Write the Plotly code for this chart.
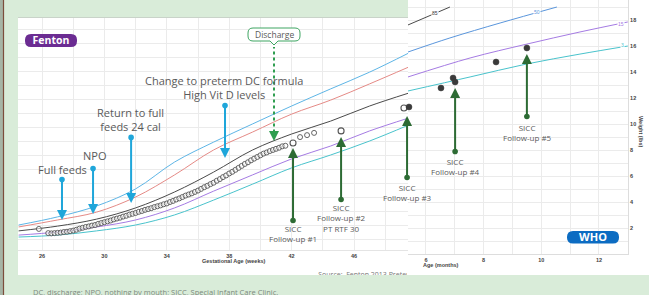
import plotly.graph_objects as go

W, H = 649, 295

# ---------------- data ----------------
# Fenton preterm percentile curves (gestational age in weeks, weight in kg)
fenton_weeks = [24.5, 27.0, 29.5, 32.0, 34.5, 37.0, 39.5, 42.0, 44.5, 47.0, 49.5]
fenton_p97 = [1.00, 1.29, 1.68, 2.29, 3.25, 3.96, 4.61, 5.25, 5.86, 6.46, 7.14]
fenton_p90 = [0.93, 1.18, 1.46, 2.00, 2.79, 3.68, 4.32, 4.96, 5.46, 6.04, 6.64]
fenton_p50 = [0.79, 0.96, 1.21, 1.61, 2.18, 2.89, 3.68, 4.25, 4.71, 5.25, 5.71]
fenton_p10 = [0.64, 0.75, 0.93, 1.18, 1.61, 2.21, 2.79, 3.36, 3.82, 4.36, 4.82]
fenton_p3 = [0.57, 0.64, 0.79, 1.00, 1.36, 1.89, 2.46, 3.04, 3.50, 4.00, 4.57]

# infant's in-hospital weights
inpatient_weeks = [25.8, 26.4, 26.6, 26.8, 27.0, 27.2, 27.4, 27.6, 27.8, 28.0,
                   28.2, 28.4, 28.6, 28.8, 29.0, 29.2, 29.4, 29.6, 29.8, 30.0,
                   30.2, 30.4, 30.6, 30.8, 31.0, 31.2, 31.4, 31.6, 31.8, 32.0,
                   32.2, 32.4, 32.6, 32.8, 33.0, 33.2, 33.4, 33.6, 33.8, 34.0,
                   34.2, 34.4, 34.6, 34.8, 35.0, 35.2, 35.4, 35.6, 35.8, 36.0,
                   36.2, 36.4, 36.6, 36.8, 37.0, 37.2, 37.4, 37.6, 37.8, 38.0,
                   38.2, 38.4, 38.6, 38.8, 39.0, 39.2, 39.4, 39.6, 39.8, 40.0,
                   40.2, 40.4, 40.6, 40.8, 41.0, 41.2, 41.4, 41.6]
inpatient_kg = [0.86, 0.71, 0.70, 0.71, 0.72, 0.73, 0.75, 0.76, 0.78, 0.80,
                0.83, 0.87, 0.90, 0.93, 0.95, 0.98, 1.00, 1.04, 1.07, 1.10,
                1.13, 1.16, 1.20, 1.23, 1.26, 1.30, 1.33, 1.37, 1.40, 1.43,
                1.47, 1.50, 1.54, 1.57, 1.60, 1.64, 1.67, 1.70, 1.74, 1.77,
                1.82, 1.86, 1.91, 1.95, 2.00, 2.05, 2.09, 2.13, 2.18, 2.23,
                2.29, 2.35, 2.40, 2.46, 2.51, 2.58, 2.64, 2.71, 2.77, 2.84,
                2.90, 2.97, 3.04, 3.11, 3.18, 3.24, 3.31, 3.37, 3.43, 3.49,
                3.55, 3.59, 3.64, 3.68, 3.72, 3.76, 3.81, 3.83]
postdc_weeks = [42.54, 42.99, 43.44]
postdc_kg = [4.14, 4.21, 4.29]
followup_weeks = [42.09, 45.17, 49.2]
followup_kg = [3.93, 4.36, 5.18]

# WHO chart (age in months, weight)
who_months = [5.41, 6.52, 6.94, 7.01, 8.43, 9.50]
who_weight = [11.31, 12.77, 13.54, 13.23, 14.77, 15.85]
who_pc_months = [5.376, 7.53, 9.50, 11.34, 13.0]
who_p3 = [12.54, 13.62, 14.62, 15.38, 16.0]
who_p15 = [13.62, 15.08, 16.15, 17.08, 17.85]
who_p50_months = [5.376, 6.83, 8.57, 10.54]
who_p50 = [15.54, 16.62, 17.77, 19.0]
who_p85_months = [5.376, 6.83]
who_p85 = [17.62, 19.0]

fenton_tickvals = [26, 28, 30, 32, 34, 36, 38, 40, 42, 44, 46, 48]
fenton_ticktext = ["26", "", "30", "", "34", "", "38", "", "42", "", "46", ""]
who_xtickvals = [6, 7, 8, 9, 10, 11, 12, 13]
who_xticktext = ["6", "", "8", "", "10", "", "12", ""]
who_ytickvals = list(range(1, 20))
who_yticktext = [str(v) if v % 2 == 0 else "" for v in who_ytickvals]

# events (label, week, weight at arrow tip)
events = [
    ("Full feeds", 27.28, 1.18),
    ("NPO", 29.27, 1.39),
    ("Return to full<br>feeds 24 cal", 31.71, 1.79),
    ("Change to preterm DC formula<br>High Vit D levels", 37.73, 3.39),
]
discharge_week = 40.87
discharge_kg = 4.0


# ---------------- helpers (layout positions in pixels) ----------------
def PX(x):
    return x / W


def PY(y):
    return 1 - y / H


def rr_path(x0, y0, x1, y1, r, pointer=None):
    pts = [f"M{PX(x0 + r)},{PY(y0)}", f"L{PX(x1 - r)},{PY(y0)}",
           f"Q{PX(x1)},{PY(y0)} {PX(x1)},{PY(y0 + r)}", f"L{PX(x1)},{PY(y1 - r)}",
           f"Q{PX(x1)},{PY(y1)} {PX(x1 - r)},{PY(y1)}"]
    if pointer is not None:
        cx, d = pointer
        pts += [f"L{PX(cx + d)},{PY(y1)}", f"L{PX(cx)},{PY(y1 + d)}",
                f"L{PX(cx - d)},{PY(y1)}"]
    pts += [f"L{PX(x0 + r)},{PY(y1)}", f"Q{PX(x0)},{PY(y1)} {PX(x0)},{PY(y1 - r)}",
            f"L{PX(x0)},{PY(y0 + r)}", f"Q{PX(x0)},{PY(y0)} {PX(x0 + r)},{PY(y0)}", "Z"]
    return " ".join(pts)


fig = go.Figure()

C97, C90, C50, C10, C3 = "#5db5e6", "#e58a86", "#4a4a4a", "#a57be3", "#49c3cc"
WHO50 = "#5a96dc"

for vals, col in [(fenton_p3, C3), (fenton_p10, C10), (fenton_p50, C50),
                  (fenton_p90, C90), (fenton_p97, C97)]:
    fig.add_trace(go.Scatter(x=fenton_weeks, y=vals, mode="lines",
                             line=dict(color=col, width=1, shape="spline"),
                             xaxis="x", yaxis="y", hoverinfo="skip"))

for xs, vals, col in [(who_pc_months, who_p3, C3), (who_pc_months, who_p15, C10),
                      (who_p50_months, who_p50, WHO50), (who_p85_months, who_p85, C50)]:
    fig.add_trace(go.Scatter(x=xs, y=vals, mode="lines",
                             line=dict(color=col, width=1, shape="spline"),
                             xaxis="x2", yaxis="y2", hoverinfo="skip"))

fig.add_trace(go.Scatter(x=inpatient_weeks + postdc_weeks, y=inpatient_kg + postdc_kg,
                         mode="markers", xaxis="x", yaxis="y", cliponaxis=False,
                         marker=dict(size=5, color="rgba(255,255,255,0.55)",
                                     line=dict(color="#555555", width=0.9))))
fig.add_trace(go.Scatter(x=followup_weeks, y=followup_kg, mode="markers",
                         xaxis="x", yaxis="y", cliponaxis=False,
                         marker=dict(size=6, color="white",
                                     line=dict(color="#555555", width=1.1))))
fig.add_trace(go.Scatter(x=who_months, y=who_weight, mode="markers",
                         xaxis="x2", yaxis="y2", cliponaxis=False,
                         marker=dict(size=6, color="#3a3a3a",
                                     line=dict(color="#3a3a3a", width=0.5))))

# clipped source note
fig.add_trace(go.Scatter(x=[0.17], y=[0.0], mode="text",
                         text=["Source:  Fenton 2013 Preterm Growth Chart"],
                         textposition="middle right", cliponaxis=True,
                         textfont=dict(size=7, color="#777777", family="Open Sans"),
                         xaxis="x3", yaxis="y3", hoverinfo="skip"))

tickfont = dict(family="Arial", size=5.5, color="#444444", weight="bold")
grid = "#ebebeb"

fig.update_layout(
    width=W, height=H, autosize=False,
    margin=dict(l=0, r=0, t=0, b=0),
    paper_bgcolor="#d9ecd9", plot_bgcolor="rgba(0,0,0,0)",
    showlegend=False,
    font=dict(family="Open Sans"),
    xaxis=dict(domain=[PX(18), PX(408)], range=[24.46, 49.46], anchor="y",
               tickvals=fenton_tickvals, ticktext=fenton_ticktext,
               showgrid=True, gridcolor=grid, gridwidth=1, zeroline=False,
               showline=True, linecolor="#e4e4e4", ticks="", tickfont=tickfont,
               fixedrange=True),
    yaxis=dict(domain=[1 - 250 / H, 1 - 18 / H], range=[0.107, 8.393], anchor="x",
               dtick=0.5, tick0=0, showticklabels=False, showgrid=True,
               gridcolor=grid, zeroline=False, fixedrange=True),
    xaxis2=dict(domain=[PX(408), PX(628)], range=[5.376, 13.007], anchor="y2",
                tickvals=who_xtickvals, ticktext=who_xticktext,
                showgrid=True, gridcolor=grid, zeroline=False, showline=True,
                linecolor="#dddddd", ticks="", tickfont=tickfont, fixedrange=True),
    yaxis2=dict(domain=[1 - 254 / H, 1.0], range=[0, 19.54], anchor="x2",
                side="right", tickvals=who_ytickvals, ticktext=who_yticktext,
                showgrid=True, gridcolor=grid, zeroline=False, showline=True,
                linecolor="#dddddd", ticks="", tickfont=tickfont, fixedrange=True),
    xaxis3=dict(domain=[PX(300), PX(407)], range=[0, 1], visible=False, anchor="y3"),
    yaxis3=dict(domain=[1 - 275 / H, 1 - 262 / H], range=[0, 1], visible=False,
                anchor="x3"),
)

shapes = []
# left frame strip
shapes.append(dict(type="rect", xref="paper", yref="paper", x0=0, x1=PX(3), y0=0, y1=1,
                   fillcolor="#a7b5a6", line=dict(width=0), layer="below"))
shapes.append(dict(type="line", xref="paper", yref="paper", x0=PX(3.5), x1=PX(3.5),
                   y0=0, y1=1, line=dict(color="#7c4d3c", width=1.2), layer="below"))
# white panels
shapes.append(dict(type="rect", xref="paper", yref="paper", x0=PX(18), x1=PX(409),
                   y0=PY(275), y1=PY(18), fillcolor="white",
                   line=dict(width=0), layer="below"))
shapes.append(dict(type="line", xref="paper", yref="paper", x0=PX(18), x1=PX(408),
                   y0=PY(17.5), y1=PY(17.5), line=dict(color="#c9d3c9", width=1),
                   layer="below"))
shapes.append(dict(type="rect", xref="paper", yref="paper", x0=PX(408), x1=1,
                   y0=PY(275), y1=1, fillcolor="white", line=dict(width=0),
                   layer="below"))
# Fenton pill
shapes.append(dict(type="path", xref="paper", yref="paper",
                   path=rr_path(25, 34, 77, 47, 6), fillcolor="#6b2c92",
                   line=dict(width=0)))
shapes.append(dict(type="rect", xref="paper", yref="paper",
                   x0=PX(25), x1=PX(77), y0=PY(47), y1=PY(34),
                   fillcolor="rgba(0,0,0,0)", line=dict(width=0),
                   label=dict(text="Fenton", textposition="middle center",
                              font=dict(size=10.5, color="white", family="Open Sans",
                                        weight="bold"))))
# WHO pill
shapes.append(dict(type="path", xref="paper", yref="paper",
                   path=rr_path(567, 231, 619, 243.5, 6), fillcolor="#0c6cc2",
                   line=dict(width=0)))
shapes.append(dict(type="rect", xref="paper", yref="paper",
                   x0=PX(567), x1=PX(619), y0=PY(243.5), y1=PY(231),
                   fillcolor="rgba(0,0,0,0)", line=dict(width=0),
                   label=dict(text="WHO", textposition="middle center",
                              font=dict(size=11, color="white", family="Open Sans",
                                        weight="bold"))))
# discharge bubble
shapes.append(dict(type="path", xref="paper", yref="paper",
                   path=rr_path(248, 28, 300, 41, 5, pointer=(274, 4)),
                   fillcolor="white", line=dict(color="#3ea562", width=1)))
# discharge dashed line
shapes.append(dict(type="line", xref="x", yref="y", x0=discharge_week, x1=discharge_week,
                   y0=discharge_kg + 0.3, y1=(253 - 47) / 28,
                   line=dict(color="#2f9e50", width=2, dash="dot")))
fig.update_layout(shapes=shapes)

ann = []
DARK = "#2d6b34"
BLUE = "#1fa6da"
TXT = "#5a5a5a"

blue_tails = [-42, -47, -67, -54]
blue_text_pos = [(62, 169), (94, 155), (130, 119), (224, 87)]
for (label, wk, kg), tail, (tx, ty) in zip(events, blue_tails, blue_text_pos):
    ann.append(dict(x=wk, y=kg, xref="x", yref="y", ax=0, ay=tail, text="",
                    showarrow=True, arrowhead=2, arrowsize=1, arrowwidth=2,
                    arrowcolor=BLUE, arrowside="end+start", startarrowhead=6,
                    startarrowsize=0.7, standoff=0, startstandoff=0))
    ann.append(dict(x=PX(tx), y=PY(ty), xref="paper", yref="paper", text=label,
                    showarrow=False, font=dict(size=11, color=TXT, family="Open Sans"),
                    xanchor="center", yanchor="middle"))

# discharge arrowhead + label
ann.append(dict(x=discharge_week, y=discharge_kg, xref="x", yref="y", ax=0, ay=-10,
                text="", showarrow=True, arrowhead=2, arrowsize=1, arrowwidth=2,
                arrowcolor="#2f9e50", standoff=0))
ann.append(dict(x=PX(274), y=PY(34.5), xref="paper", yref="paper", text="Discharge",
                showarrow=False, font=dict(size=8.5, color=TXT, family="Open Sans"),
                xanchor="center", yanchor="middle"))

# follow-up arrows
fu_specs = [
    ("x", "y", followup_weeks[0], (253 - 148) / 28, 74, "SICC<br>Follow-up #1", (293, 233)),
    ("x", "y", followup_weeks[1], (253 - 137) / 28, 64, "SICC<br>Follow-up #2<br>PT RTF 30", (341, 218)),
    ("x", "y", 49.4, (253 - 116) / 28, 63, "SICC<br>Follow-up #3", (407, 192)),
    ("x2", "y2", who_months[3], (254 - 88) / 13, 65, "SICC<br>Follow-up #4", (455, 166)),
    ("x2", "y2", who_months[5], (254 - 54) / 13, 64, "SICC<br>Follow-up #5", (527, 132)),
]
for xr, yr, xv, yv, tail, label, (tx, ty) in fu_specs:
    ann.append(dict(x=xv, y=yv, xref=xr, yref=yr, ax=0, ay=tail, text="",
                    showarrow=True, arrowhead=2, arrowsize=1, arrowwidth=2,
                    arrowcolor=DARK, arrowside="end+start", startarrowhead=6,
                    startarrowsize=0.7, standoff=0, startstandoff=0))
    ann.append(dict(x=PX(tx), y=PY(ty), xref="paper", yref="paper", text=label,
                    showarrow=False, font=dict(size=8, color=TXT, family="Open Sans"),
                    xanchor="center", yanchor="middle"))

# WHO percentile labels
for xv, yv, t, col in [(6.31, 18.54, "85", "#333333"), (9.85, 18.6, "50", WHO50),
                       (12.76, 17.72, "15", C10), (12.8, 16.05, "3", C3)]:
    ann.append(dict(x=xv, y=yv, xref="x2", yref="y2", text=t, showarrow=False,
                    font=dict(size=5, color=col, family="Arial"), bgcolor="white",
                    borderpad=0))

# axis titles
ann.append(dict(x=PX(200), y=PY(266), xref="paper", yref="paper",
                text="Gestational Age (weeks)", showarrow=False,
                font=dict(size=5.5, color="#444444", family="Arial", weight="bold")))
ann.append(dict(x=PX(421), y=PY(270), xref="paper", yref="paper", xanchor="left",
                text="Age (months)", showarrow=False,
                font=dict(size=5.5, color="#444444", family="Arial", weight="bold")))
ann.append(dict(x=PX(646), y=PY(132), xref="paper", yref="paper", textangle=90,
                text="Weight (lbs)", showarrow=False,
                font=dict(size=5.5, color="#444444", family="Arial", weight="bold")))

# caption
ann.append(dict(x=PX(31), y=PY(285), xref="paper", yref="paper", xanchor="left",
                yanchor="top",
                text="DC, discharge; NPO, nothing by mouth; SICC, Special Infant Care Clinic.",
                showarrow=False, font=dict(size=7.5, color="#7d8a7d", family="Open Sans")))

fig.update_layout(annotations=ann)

fig.write_html("out.html", config={"displayModeBar": False},
               post_script="document.body.style.margin='0';")
